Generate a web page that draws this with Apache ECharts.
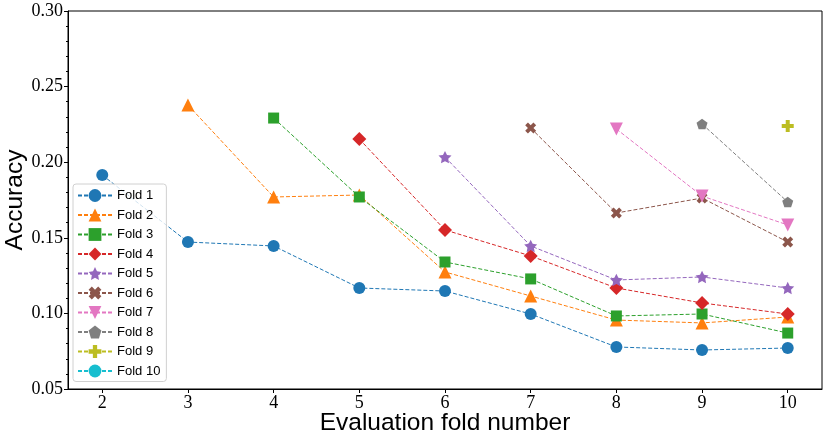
<!DOCTYPE html>
<html><head><meta charset="utf-8">
<script src="https://cdn.jsdelivr.net/npm/echarts@6/dist/echarts.min.js"></script>
<style>html,body{margin:0;padding:0;background:#fff}#c{width:830px;height:441px}</style>
</head><body><div id="c"></div>
<script>
const evalFolds = [2, 3, 4, 5, 6, 7, 8, 9, 10];
const foldNames = ['Fold 1','Fold 2','Fold 3','Fold 4','Fold 5','Fold 6','Fold 7','Fold 8','Fold 9','Fold 10'];
const fold1 = [0.1915, 0.1472, 0.1446, 0.1168, 0.1148, 0.0996, 0.0778, 0.0758, 0.0771];
const fold2 = [null, 0.2378, 0.1770, 0.1783, 0.1274, 0.1115, 0.0956, 0.0937, 0.0976];
const fold3 = [null, null, 0.2292, 0.1770, 0.1340, 0.1228, 0.0983, 0.0996, 0.0870];
const fold4 = [null, null, null, 0.2153, 0.1552, 0.1380, 0.1168, 0.1069, 0.0996];
const fold5 = [null, null, null, null, 0.2034, 0.1446, 0.1221, 0.1241, 0.1168];
const fold6 = [null, null, null, null, null, 0.2226, 0.1664, 0.1763, 0.1472];
const fold7 = [null, null, null, null, null, null, 0.2220, 0.1776, 0.1585];
const fold8 = [null, null, null, null, null, null, null, 0.2253, 0.1737];
const fold9 = [null, null, null, null, null, null, null, null, 0.2239];
const fold10 = [null, null, null, null, null, null, null, null, null];
const yTicks = [0.05, 0.10, 0.15, 0.20, 0.25, 0.30];

const allFolds = [fold1, fold2, fold3, fold4, fold5, fold6, fold7, fold8, fold9, fold10];
const colors = ['#1f77b4','#ff7f0e','#2ca02c','#d62728','#9467bd','#8c564b','#e377c2','#7f7f7f','#bcbd22','#17becf'];
const STAR = 'path://M0,-100 L29.4,-40.5 L95.1,-30.9 L47.6,15.5 L58.8,80.9 L0,50 L-58.8,80.9 L-47.6,15.5 L-95.1,-30.9 L-29.4,-40.5 Z';
const XMARK = 'path://M141,-283 L283,-141 L141,0 L283,141 L141,283 L0,141 L-141,283 L-283,141 L-141,0 L-283,-141 L-141,-283 L0,-141 Z';
const PENT = 'path://M0,-100 L95.1,-30.9 L58.8,80.9 L-58.8,80.9 L-95.1,-30.9 Z';
const PLUS = 'path://M-1,-3 L1,-3 L1,-1 L3,-1 L3,1 L1,1 L1,3 L-1,3 L-1,1 L-3,1 L-3,-1 L-1,-1 Z';
const symbols = ['circle','triangle','rect','diamond',STAR,XMARK,'triangle',PENT,PLUS,'circle'];
const sizes = [12, 13, 11, 14, 13, 11, 13, 11, 12, 12];
const rotates = [0,0,0,0,0,0,180,0,0,0];

const series = allFolds.map((vals, i) => ({
  name: foldNames[i],
  type: 'line',
  data: evalFolds.map((x, j) => [x, vals[j]]),
  connectNulls: false,
  symbol: symbols[i],
  symbolSize: sizes[i],
  symbolRotate: rotates[i],
  symbolKeepAspect: true,
  showSymbol: true,
  animation: false,
  itemStyle: { color: colors[i], opacity: 1 },
  lineStyle: { color: colors[i], width: 1, type: [4, 2] },
  emphasis: { disabled: true }
}));

const chart = echarts.init(document.getElementById('c'));
chart.setOption({
  animation: false,
  grid: { left: 68, right: 8, top: 11, bottom: 52, outerBoundsMode: 'none', containLabel: false, show: true, borderColor: '#000', borderWidth: 1, backgroundColor: 'transparent' },
  legend: {
    orient: 'vertical', left: 73, top: 184,
    data: foldNames,
    itemWidth: 34, itemHeight: 16, itemGap: 6.5,
    backgroundColor: 'rgba(255,255,255,0.8)', borderColor: '#d0d0d0', borderWidth: 1, borderRadius: 3,
    padding: [5, 6, 4, 4],
    textStyle: { fontFamily: 'Liberation Sans, Arial, sans-serif', fontSize: 13, color: '#000' }
  },
  xAxis: {
    type: 'value', min: 1.6, max: 10.4,
    name: 'Evaluation fold number', nameLocation: 'middle', nameGap: 22, nameMoveOverlap: false,
    nameTextStyle: { fontFamily: 'Liberation Sans, Arial, sans-serif', fontSize: 24.5, color: '#000' },
    axisLine: { show: true, onZero: false, lineStyle: { color: '#000', width: 1 } },
    axisTick: { show: true, inside: false, length: 4, customValues: evalFolds, lineStyle: { color: '#000' } },
    axisLabel: { customValues: evalFolds, fontFamily: 'Liberation Serif, DejaVu Serif, serif', fontSize: 18, color: '#000', margin: 5 },
    splitLine: { show: false }
  },
  yAxis: {
    type: 'value', min: 0.05, max: 0.30, interval: 0.05,
    name: 'Accuracy', nameLocation: 'middle', nameGap: 40, nameMoveOverlap: false,
    nameTextStyle: { fontFamily: 'Liberation Sans, Arial, sans-serif', fontSize: 24.5, color: '#000' },
    axisLine: { show: true, lineStyle: { color: '#000', width: 1 } },
    axisTick: { show: true, inside: false, length: 4, lineStyle: { color: '#000' } },
    minorTick: { show: true, splitNumber: 5, length: 2, lineStyle: { color: '#000' } },
    axisLabel: { formatter: v => v.toFixed(2), fontFamily: 'Liberation Serif, DejaVu Serif, serif', fontSize: 18, color: '#000', margin: 5 },
    splitLine: { show: false }
  },
  series: series
});
</script></body></html>
